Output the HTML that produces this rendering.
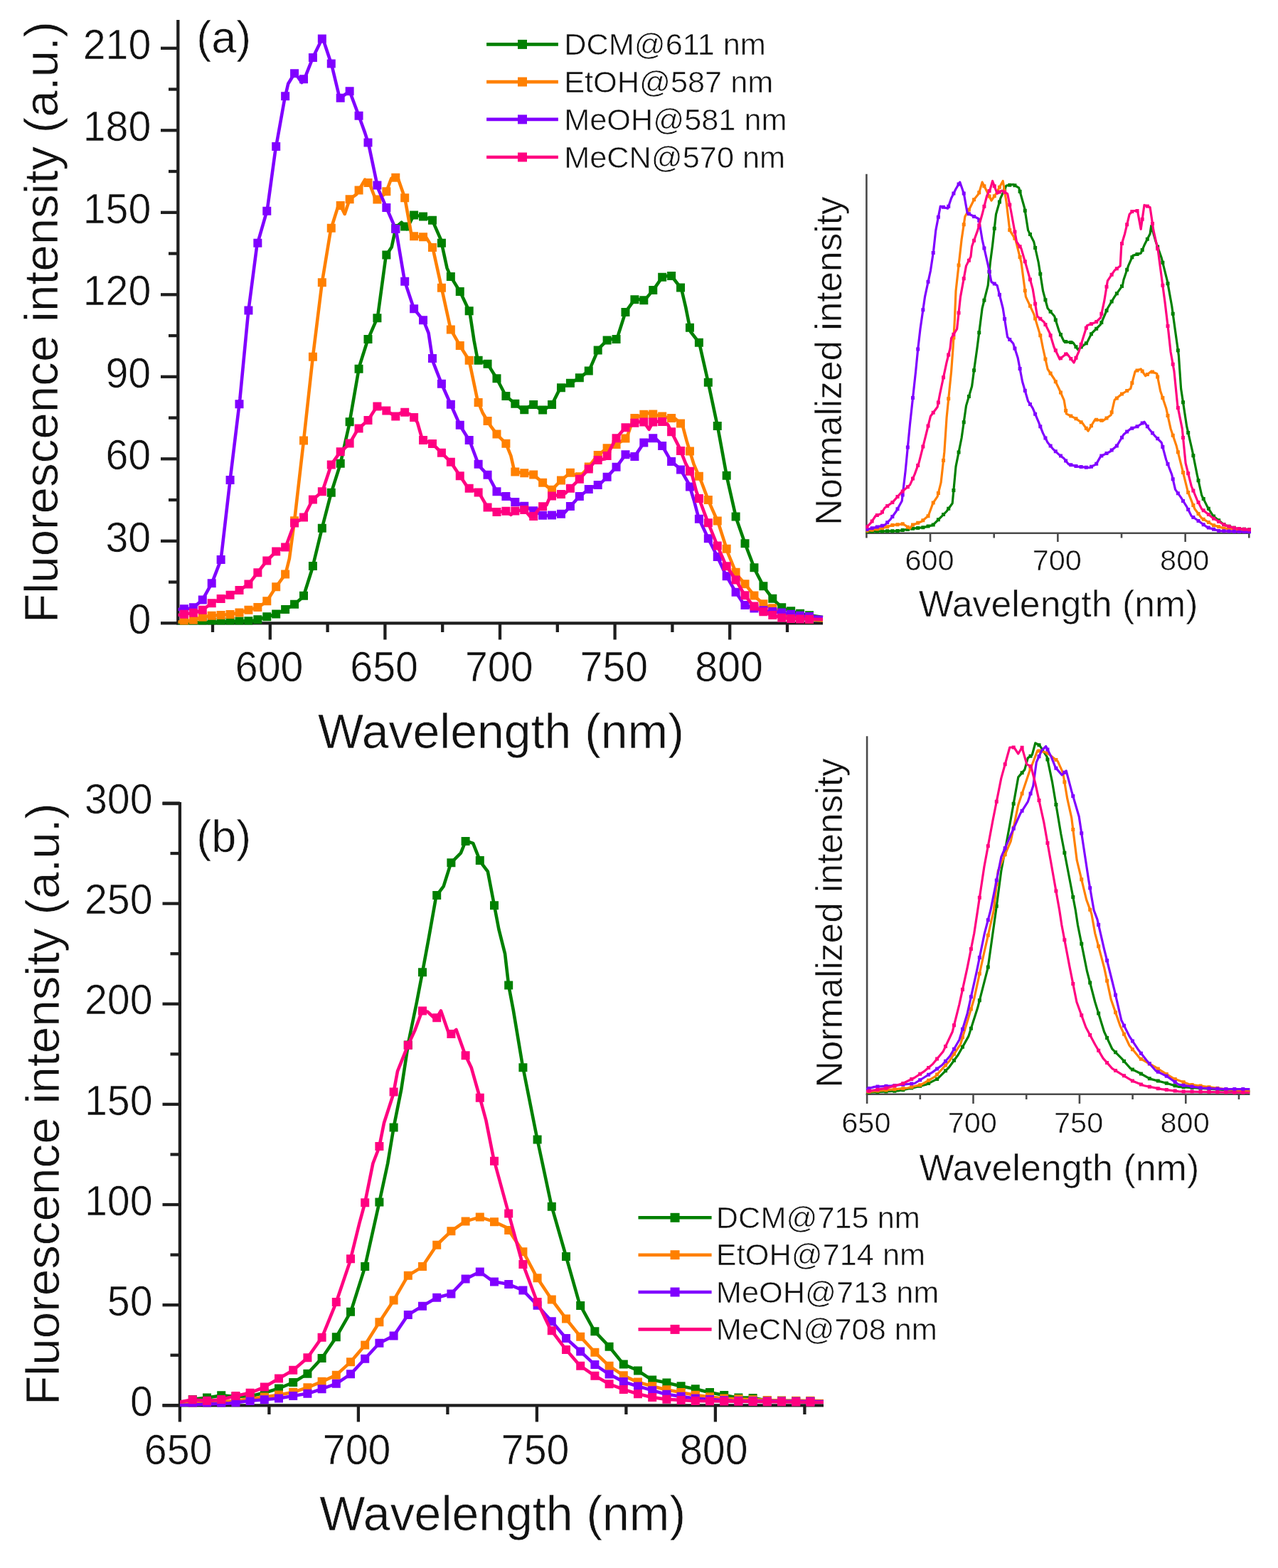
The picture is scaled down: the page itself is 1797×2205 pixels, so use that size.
<!DOCTYPE html>
<html><head><meta charset="utf-8"><title>Fluorescence spectra</title>
<style>html,body{margin:0;padding:0;background:#fff;overflow:hidden;} svg{display:block;} text{fill:#111;stroke:#fff;stroke-width:0.6px;}</style></head>
<body>
<svg width="1797" height="2205" viewBox="0 0 1797 2205" font-family="Liberation Sans, Arial, sans-serif">
<rect width="1797" height="2205" fill="#fff"/>
<line x1="250.3" y1="28" x2="250.3" y2="878.3" stroke="#1e1e1e" stroke-width="4.3"/>
<line x1="248.3" y1="876.3" x2="1157" y2="876.3" stroke="#1e1e1e" stroke-width="4.3"/>
<line x1="226" y1="876.3" x2="250.3" y2="876.3" stroke="#1e1e1e" stroke-width="4.3"/>
<text transform="translate(180.59 891.16) scale(1 1.020)" font-size="57.30">0</text>
<line x1="237" y1="818.55" x2="250.3" y2="818.55" stroke="#1e1e1e" stroke-width="4.3"/>
<line x1="226" y1="760.8" x2="250.3" y2="760.8" stroke="#1e1e1e" stroke-width="4.3"/>
<text transform="translate(148.5 775.66) scale(1 1.020)" font-size="57.30">30</text>
<line x1="237" y1="703.05" x2="250.3" y2="703.05" stroke="#1e1e1e" stroke-width="4.3"/>
<line x1="226" y1="645.3" x2="250.3" y2="645.3" stroke="#1e1e1e" stroke-width="4.3"/>
<text transform="translate(148.5 660.16) scale(1 1.020)" font-size="57.30">60</text>
<line x1="237" y1="587.55" x2="250.3" y2="587.55" stroke="#1e1e1e" stroke-width="4.3"/>
<line x1="226" y1="529.8" x2="250.3" y2="529.8" stroke="#1e1e1e" stroke-width="4.3"/>
<text transform="translate(148.5 544.66) scale(1 1.020)" font-size="57.30">90</text>
<line x1="237" y1="472.05" x2="250.3" y2="472.05" stroke="#1e1e1e" stroke-width="4.3"/>
<line x1="226" y1="414.3" x2="250.3" y2="414.3" stroke="#1e1e1e" stroke-width="4.3"/>
<text transform="translate(116.7 429.16) scale(1 1.020)" font-size="57.30">120</text>
<line x1="237" y1="356.55" x2="250.3" y2="356.55" stroke="#1e1e1e" stroke-width="4.3"/>
<line x1="226" y1="298.8" x2="250.3" y2="298.8" stroke="#1e1e1e" stroke-width="4.3"/>
<text transform="translate(116.7 313.66) scale(1 1.020)" font-size="57.30">150</text>
<line x1="237" y1="241.05" x2="250.3" y2="241.05" stroke="#1e1e1e" stroke-width="4.3"/>
<line x1="226" y1="183.3" x2="250.3" y2="183.3" stroke="#1e1e1e" stroke-width="4.3"/>
<text transform="translate(116.7 198.16) scale(1 1.020)" font-size="57.30">180</text>
<line x1="237" y1="125.55" x2="250.3" y2="125.55" stroke="#1e1e1e" stroke-width="4.3"/>
<line x1="226" y1="67.8" x2="250.3" y2="67.8" stroke="#1e1e1e" stroke-width="4.3"/>
<text transform="translate(116.7 82.66) scale(1 1.020)" font-size="57.30">210</text>
<line x1="299" y1="876.3" x2="299" y2="889" stroke="#1e1e1e" stroke-width="4.3"/>
<line x1="379.8" y1="876.3" x2="379.8" y2="899.5" stroke="#1e1e1e" stroke-width="4.3"/>
<text transform="translate(330.77 958.46) scale(1 1.020)" font-size="57.30">600</text>
<line x1="460.6" y1="876.3" x2="460.6" y2="889" stroke="#1e1e1e" stroke-width="4.3"/>
<line x1="541.4" y1="876.3" x2="541.4" y2="899.5" stroke="#1e1e1e" stroke-width="4.3"/>
<text transform="translate(492.37 958.46) scale(1 1.020)" font-size="57.30">650</text>
<line x1="622.2" y1="876.3" x2="622.2" y2="889" stroke="#1e1e1e" stroke-width="4.3"/>
<line x1="703" y1="876.3" x2="703" y2="899.5" stroke="#1e1e1e" stroke-width="4.3"/>
<text transform="translate(653.97 958.46) scale(1 1.020)" font-size="57.30">700</text>
<line x1="783.8" y1="876.3" x2="783.8" y2="889" stroke="#1e1e1e" stroke-width="4.3"/>
<line x1="864.6" y1="876.3" x2="864.6" y2="899.5" stroke="#1e1e1e" stroke-width="4.3"/>
<text transform="translate(815.57 958.46) scale(1 1.020)" font-size="57.30">750</text>
<line x1="945.4" y1="876.3" x2="945.4" y2="889" stroke="#1e1e1e" stroke-width="4.3"/>
<line x1="1026.2" y1="876.3" x2="1026.2" y2="899.5" stroke="#1e1e1e" stroke-width="4.3"/>
<text transform="translate(977.31 958.46) scale(1 1.020)" font-size="57.30">800</text>
<line x1="1107" y1="876.3" x2="1107" y2="889" stroke="#1e1e1e" stroke-width="4.3"/>
<text transform="translate(447.06 1052.05)" font-size="67.94">Wavelength (nm)</text>
<text transform="translate(80.9 875.89) rotate(-90)" font-size="67.35">Fluorescence intensity (a.u.)</text>
<text transform="translate(276.23 73.61)" font-size="62.91">(a)</text>
<line x1="252.9" y1="1128" x2="252.9" y2="1999.5" stroke="#1e1e1e" stroke-width="4.3"/>
<line x1="250.9" y1="1130.1" x2="228.5" y2="1130.1" stroke="#1e1e1e" stroke-width="4.3"/>
<line x1="228.5" y1="1976.3" x2="1158" y2="1976.3" stroke="#1e1e1e" stroke-width="4.3"/>
<line x1="228.5" y1="1976.3" x2="252.9" y2="1976.3" stroke="#1e1e1e" stroke-width="4.3"/>
<text transform="translate(182.89 1990.91) scale(1 1.020)" font-size="57.30">0</text>
<line x1="239.5" y1="1905.73" x2="252.9" y2="1905.73" stroke="#1e1e1e" stroke-width="4.3"/>
<line x1="228.5" y1="1835.16" x2="252.9" y2="1835.16" stroke="#1e1e1e" stroke-width="4.3"/>
<text transform="translate(150.8 1849.78) scale(1 1.020)" font-size="57.30">50</text>
<line x1="239.5" y1="1764.6" x2="252.9" y2="1764.6" stroke="#1e1e1e" stroke-width="4.3"/>
<line x1="228.5" y1="1694.03" x2="252.9" y2="1694.03" stroke="#1e1e1e" stroke-width="4.3"/>
<text transform="translate(119 1708.64) scale(1 1.020)" font-size="57.30">100</text>
<line x1="239.5" y1="1623.46" x2="252.9" y2="1623.46" stroke="#1e1e1e" stroke-width="4.3"/>
<line x1="228.5" y1="1552.89" x2="252.9" y2="1552.89" stroke="#1e1e1e" stroke-width="4.3"/>
<text transform="translate(119 1567.51) scale(1 1.020)" font-size="57.30">150</text>
<line x1="239.5" y1="1482.33" x2="252.9" y2="1482.33" stroke="#1e1e1e" stroke-width="4.3"/>
<line x1="228.5" y1="1411.76" x2="252.9" y2="1411.76" stroke="#1e1e1e" stroke-width="4.3"/>
<text transform="translate(119 1426.37) scale(1 1.020)" font-size="57.30">200</text>
<line x1="239.5" y1="1341.19" x2="252.9" y2="1341.19" stroke="#1e1e1e" stroke-width="4.3"/>
<line x1="228.5" y1="1270.62" x2="252.9" y2="1270.62" stroke="#1e1e1e" stroke-width="4.3"/>
<text transform="translate(119 1285.24) scale(1 1.020)" font-size="57.30">250</text>
<line x1="239.5" y1="1200.06" x2="252.9" y2="1200.06" stroke="#1e1e1e" stroke-width="4.3"/>
<line x1="228.5" y1="1129.49" x2="252.9" y2="1129.49" stroke="#1e1e1e" stroke-width="4.3"/>
<text transform="translate(119 1144.1) scale(1 1.020)" font-size="57.30">300</text>
<text transform="translate(202.77 2058.56) scale(1 1.020)" font-size="57.30">650</text>
<line x1="378.4" y1="1976.3" x2="378.4" y2="1989" stroke="#1e1e1e" stroke-width="4.3"/>
<line x1="503.9" y1="1976.3" x2="503.9" y2="1999.5" stroke="#1e1e1e" stroke-width="4.3"/>
<text transform="translate(453.77 2058.56) scale(1 1.020)" font-size="57.30">700</text>
<line x1="629.4" y1="1976.3" x2="629.4" y2="1989" stroke="#1e1e1e" stroke-width="4.3"/>
<line x1="754.9" y1="1976.3" x2="754.9" y2="1999.5" stroke="#1e1e1e" stroke-width="4.3"/>
<text transform="translate(704.77 2058.56) scale(1 1.020)" font-size="57.30">750</text>
<line x1="880.4" y1="1976.3" x2="880.4" y2="1989" stroke="#1e1e1e" stroke-width="4.3"/>
<line x1="1005.9" y1="1976.3" x2="1005.9" y2="1999.5" stroke="#1e1e1e" stroke-width="4.3"/>
<text transform="translate(955.91 2058.56) scale(1 1.020)" font-size="57.30">800</text>
<line x1="1131.4" y1="1976.3" x2="1131.4" y2="1989" stroke="#1e1e1e" stroke-width="4.3"/>
<text transform="translate(449.26 2152.05)" font-size="67.94">Wavelength (nm)</text>
<text transform="translate(82.6 1975.89) rotate(-90)" font-size="67.42">Fluorescence intensity (a.u.)</text>
<text transform="translate(276.23 1197.71)" font-size="62.91">(b)</text>
<line x1="1218.4" y1="244.8" x2="1218.4" y2="751" stroke="#4a4a4a" stroke-width="2.6"/>
<line x1="1217.1" y1="749.7" x2="1757.5" y2="749.7" stroke="#4a4a4a" stroke-width="2.6"/>
<line x1="1218.4" y1="749.7" x2="1218.4" y2="756.5" stroke="#4a4a4a" stroke-width="2.6"/>
<line x1="1308.05" y1="749.7" x2="1308.05" y2="762" stroke="#4a4a4a" stroke-width="2.6"/>
<line x1="1397.7" y1="749.7" x2="1397.7" y2="756.5" stroke="#4a4a4a" stroke-width="2.6"/>
<line x1="1487.35" y1="749.7" x2="1487.35" y2="762" stroke="#4a4a4a" stroke-width="2.6"/>
<line x1="1577" y1="749.7" x2="1577" y2="756.5" stroke="#4a4a4a" stroke-width="2.6"/>
<line x1="1666.65" y1="749.7" x2="1666.65" y2="762" stroke="#4a4a4a" stroke-width="2.6"/>
<line x1="1756.3" y1="749.7" x2="1756.3" y2="756.5" stroke="#4a4a4a" stroke-width="2.6"/>
<text transform="translate(1272.39 801.72)" font-size="41.50">600</text>
<text transform="translate(1451.69 801.72)" font-size="41.50">700</text>
<text transform="translate(1631.09 801.72)" font-size="41.50">800</text>
<text transform="translate(1291.74 867.08)" font-size="51.84">Wavelength (nm)</text>
<text transform="translate(1183.4 738.71) rotate(-90)" font-size="51.37">Normalized intensity</text>
<line x1="1219.1" y1="1035.3" x2="1219.1" y2="1540" stroke="#4a4a4a" stroke-width="2.6"/>
<line x1="1217.8" y1="1538.7" x2="1757.5" y2="1538.7" stroke="#4a4a4a" stroke-width="2.6"/>
<line x1="1219.1" y1="1538.7" x2="1219.1" y2="1552" stroke="#4a4a4a" stroke-width="2.6"/>
<line x1="1293.8" y1="1538.7" x2="1293.8" y2="1546" stroke="#4a4a4a" stroke-width="2.6"/>
<line x1="1368.5" y1="1538.7" x2="1368.5" y2="1552" stroke="#4a4a4a" stroke-width="2.6"/>
<line x1="1443.2" y1="1538.7" x2="1443.2" y2="1546" stroke="#4a4a4a" stroke-width="2.6"/>
<line x1="1517.9" y1="1538.7" x2="1517.9" y2="1552" stroke="#4a4a4a" stroke-width="2.6"/>
<line x1="1592.6" y1="1538.7" x2="1592.6" y2="1546" stroke="#4a4a4a" stroke-width="2.6"/>
<line x1="1667.3" y1="1538.7" x2="1667.3" y2="1552" stroke="#4a4a4a" stroke-width="2.6"/>
<line x1="1742" y1="1538.7" x2="1742" y2="1546" stroke="#4a4a4a" stroke-width="2.6"/>
<text transform="translate(1183.24 1592.52)" font-size="41.50">650</text>
<text transform="translate(1332.64 1592.52)" font-size="41.50">700</text>
<text transform="translate(1482.04 1592.52)" font-size="41.50">750</text>
<text transform="translate(1631.54 1592.52)" font-size="41.50">800</text>
<text transform="translate(1292.44 1659.68)" font-size="51.97">Wavelength (nm)</text>
<text transform="translate(1183.7 1529.42) rotate(-90)" font-size="51.46">Normalized intensity</text>
<line x1="684.1" y1="62.4" x2="784.9" y2="62.4" stroke="#008000" stroke-width="4.6"/>
<rect x="728" y="55.9" width="13" height="13" fill="#008000"/>
<text transform="translate(793.14 77.1)" font-size="43.30">DCM@611 nm</text>
<line x1="684.1" y1="115.1" x2="784.9" y2="115.1" stroke="#FF8000" stroke-width="4.6"/>
<rect x="728" y="108.6" width="13" height="13" fill="#FF8000"/>
<text transform="translate(793.14 129.8)" font-size="43.30">EtOH@587 nm</text>
<line x1="684.1" y1="167.9" x2="784.9" y2="167.9" stroke="#8000FF" stroke-width="4.6"/>
<rect x="728" y="161.4" width="13" height="13" fill="#8000FF"/>
<text transform="translate(793.14 182.6)" font-size="43.30">MeOH@581 nm</text>
<line x1="684.1" y1="221" x2="784.9" y2="221" stroke="#FF0080" stroke-width="4.6"/>
<rect x="728" y="214.5" width="13" height="13" fill="#FF0080"/>
<text transform="translate(793.14 235.7)" font-size="43.30">MeCN@570 nm</text>
<line x1="897.5" y1="1712.3" x2="1000.6" y2="1712.3" stroke="#008000" stroke-width="4.6"/>
<rect x="942.55" y="1705.8" width="13" height="13" fill="#008000"/>
<text transform="translate(1006.84 1727)" font-size="43.30">DCM@715 nm</text>
<line x1="897.5" y1="1764.7" x2="1000.6" y2="1764.7" stroke="#FF8000" stroke-width="4.6"/>
<rect x="942.55" y="1758.2" width="13" height="13" fill="#FF8000"/>
<text transform="translate(1006.84 1779.4)" font-size="43.30">EtOH@714 nm</text>
<line x1="897.5" y1="1817" x2="1000.6" y2="1817" stroke="#8000FF" stroke-width="4.6"/>
<rect x="942.55" y="1810.5" width="13" height="13" fill="#8000FF"/>
<text transform="translate(1006.84 1831.7)" font-size="43.30">MeOH@713 nm</text>
<line x1="897.5" y1="1869.4" x2="1000.6" y2="1869.4" stroke="#FF0080" stroke-width="4.6"/>
<rect x="942.55" y="1862.9" width="13" height="13" fill="#FF0080"/>
<text transform="translate(1006.84 1884.1)" font-size="43.30">MeCN@708 nm</text>
<clipPath id="c135"><rect x="250.5" y="20" width="919.5" height="858.5"/></clipPath><g clip-path="url(#c135)">
<polyline points="250,876.4 357,872.9 374.8,867.5 387.3,864 401.6,856.8 414.1,849.7 426.6,839 439,799.7 453.3,740.8 465.8,692.7 478.3,653.4 490.8,598.1 505,516.1 516.8,478.7 531,445.9 542.7,359.5 550.7,347.4 556.5,320 564.6,312.8 572,322 581.8,302.5 594,304.2 607.8,309.4 619.9,337 628.5,376.8 633.7,388.9 647.5,411.3 660.5,439 666.5,478.7 671.7,506.4 685.5,511.6 698.5,532.3 711.4,557 725.3,568.5 735.6,577.2 749.5,568.5 761.6,577.2 775.4,570.3 787.5,546.1 801.3,539.2 816.4,530.4 828.5,520.9 841.5,490.7 855.3,476.9 867.4,476.9 879.5,438.9 893.3,419.9 906.3,422.4 919.2,406.9 931.3,389.6 943.4,387 958.1,406 964.2,432 971.1,466.5 983.2,482.1 996.1,539.1 1010,604.8 1022.2,671.6 1035.1,728.6 1048.1,765.8 1061.9,802 1074,825.4 1087,842.7 1099.9,854.8 1113.8,859.9 1130,864 1157,868" fill="none" stroke="#008000" stroke-width="4.6" stroke-linejoin="round"/>
<path d="M252.92 870.11h12v12h-12zM265.85 869.69h12v12h-12zM278.78 869.26h12v12h-12zM291.71 868.84h12v12h-12zM304.64 868.42h12v12h-12zM317.56 867.99h12v12h-12zM330.49 867.57h12v12h-12zM343.42 867.15h12v12h-12zM356.35 865.28h12v12h-12zM369.28 861.37h12v12h-12zM382.2 857.55h12v12h-12zM395.13 851.04h12v12h-12zM408.06 843.72h12v12h-12zM420.99 831.77h12v12h-12zM433.92 789.93h12v12h-12zM446.84 736.68h12v12h-12zM459.77 686.81h12v12h-12zM472.7 645.63h12v12h-12zM485.63 587.32h12v12h-12zM498.56 512.67h12v12h-12zM511.48 471.12h12v12h-12zM524.41 441.26h12v12h-12zM537.34 352.53h12v12h-12zM550.27 315.1h12v12h-12zM563.2 312.51h12v12h-12zM576.12 296.55h12v12h-12zM589.05 298.6h12v12h-12zM601.98 303.81h12v12h-12zM614.91 335.66h12v12h-12zM627.84 383.12h12v12h-12zM640.76 404.1h12v12h-12zM653.69 431.28h12v12h-12zM666.62 500.75h12v12h-12zM679.55 505.68h12v12h-12zM692.48 526.26h12v12h-12zM705.4 551h12v12h-12zM718.33 561.7h12v12h-12zM731.26 570.16h12v12h-12zM744.19 562.99h12v12h-12zM757.12 570.44h12v12h-12zM770.04 563.01h12v12h-12zM782.97 539.36h12v12h-12zM795.9 532.85h12v12h-12zM808.83 525.32h12v12h-12zM821.76 515.48h12v12h-12zM834.68 486.6h12v12h-12zM847.61 472.59h12v12h-12zM860.54 470.9h12v12h-12zM873.47 433h12v12h-12zM886.4 415.15h12v12h-12zM899.32 416.21h12v12h-12zM912.25 402.04h12v12h-12zM925.18 383.77h12v12h-12zM938.11 381.91h12v12h-12zM951.04 398.62h12v12h-12zM963.96 454.82h12v12h-12zM976.89 475.7h12v12h-12zM989.82 531.86h12v12h-12zM1002.75 592.88h12v12h-12zM1015.68 662.73h12v12h-12zM1028.6 720.4h12v12h-12zM1041.53 758.17h12v12h-12zM1054.46 792.22h12v12h-12zM1067.39 818.21h12v12h-12zM1080.32 835.79h12v12h-12zM1093.24 848.18h12v12h-12zM1106.17 853.3h12v12h-12zM1119.1 856.76h12v12h-12zM1132.03 859.19h12v12h-12z" fill="#008000"/>
<polyline points="250,874.7 267.8,872.9 285.7,867.5 298.2,865.7 310.6,864.9 324.9,864 337.4,861.3 349.9,857.7 362.4,854.1 374.8,846.1 387.3,826.5 401.6,806.9 406.9,785.5 414.1,731.9 426.6,623.1 439.9,501.8 452.8,397.5 465,323.3 476.9,285.4 484.7,300.9 491.6,280.2 501.1,273.3 513.2,252.6 520.1,259.5 528.7,281.9 542.5,271.6 550.3,250.8 559,249.1 569.3,278.5 578.8,332 599.1,333.6 608.6,349.1 621.6,407.9 633.7,463.2 647.5,487.4 659.6,506.4 671.5,563.2 678.6,580.5 689,597.8 699.3,611.6 711.4,623.7 718.4,641 723.5,663.4 737.4,665.2 749.5,666.9 763.3,679 775.4,689.3 789.2,675.2 801.9,664.8 814.6,670.6 824.9,660.2 839.9,640.6 853.7,630.3 867.6,624.5 881.4,615.3 890.6,588.8 910.2,580.7 935.5,586.5 949.4,588.8 959.7,598 965.5,619.9 975.5,652.6 985.9,676.8 996.3,704.4 1010.1,735.5 1023.9,778.7 1036,808.1 1048.1,821.9 1061.9,839.2 1075.7,851.3 1089.6,856.5 1105.1,866 1120,869.5 1157,872.5" fill="none" stroke="#FF8000" stroke-width="4.6" stroke-linejoin="round"/>
<path d="M252.92 867.8h12v12h-12zM265.85 865.68h12v12h-12zM278.78 861.78h12v12h-12zM291.71 859.77h12v12h-12zM304.64 858.9h12v12h-12zM317.56 858.08h12v12h-12zM330.49 855.5h12v12h-12zM343.42 851.84h12v12h-12zM356.35 848.12h12v12h-12zM369.28 839.35h12v12h-12zM382.2 819.26h12v12h-12zM395.13 801.54h12v12h-12zM408.06 726.2h12v12h-12zM420.99 613.57h12v12h-12zM433.92 495.68h12v12h-12zM446.84 391.24h12v12h-12zM459.77 314.84h12v12h-12zM472.7 282.98h12v12h-12zM485.63 274.18h12v12h-12zM498.56 261.39h12v12h-12zM511.48 250.88h12v12h-12zM524.41 274.62h12v12h-12zM537.34 263.36h12v12h-12zM550.27 243.63h12v12h-12zM563.2 272.2h12v12h-12zM576.12 326.26h12v12h-12zM589.05 327.28h12v12h-12zM601.98 342.09h12v12h-12zM614.91 398.77h12v12h-12zM627.84 457.44h12v12h-12zM640.76 480.11h12v12h-12zM653.69 500.84h12v12h-12zM666.62 559.93h12v12h-12zM679.55 586.06h12v12h-12zM692.48 604.49h12v12h-12zM705.4 617.71h12v12h-12zM718.33 657.51h12v12h-12zM731.26 659.18h12v12h-12zM744.19 661.5h12v12h-12zM757.12 672.84h12v12h-12zM770.04 682.64h12v12h-12zM782.97 669.43h12v12h-12zM795.9 658.8h12v12h-12zM808.83 664.37h12v12h-12zM821.76 650.47h12v12h-12zM834.68 634.02h12v12h-12zM847.61 624.37h12v12h-12zM860.54 618.94h12v12h-12zM873.47 610.59h12v12h-12zM886.4 582.06h12v12h-12zM899.32 576.72h12v12h-12zM912.25 576.55h12v12h-12zM925.18 579.51h12v12h-12zM938.11 581.92h12v12h-12zM951.04 589.62h12v12h-12zM963.96 628.49h12v12h-12zM976.89 663.8h12v12h-12zM989.82 697.12h12v12h-12zM1002.75 726.45h12v12h-12zM1015.68 765.74h12v12h-12zM1028.6 798.71h12v12h-12zM1041.53 815.25h12v12h-12zM1054.46 831.39h12v12h-12zM1067.39 843.27h12v12h-12zM1080.32 849.27h12v12h-12zM1093.24 856.41h12v12h-12zM1106.17 861.66h12v12h-12zM1119.1 863.91h12v12h-12zM1132.03 864.96h12v12h-12z" fill="#FF8000"/>
<polyline points="250,857 270.5,855.5 284.8,843.4 298.2,819.4 310.6,787.2 324,671.3 337.4,560.7 349.1,439 361.2,345.7 375.8,294.9 387,212.8 400,140.2 405.2,117.8 414.7,102.2 424.2,116 430.2,105.7 439.7,81.5 453.6,53 466.5,91.8 477.7,138.5 491.6,128.1 504.5,162.7 513.2,186.9 518.4,203.3 531.3,264.6 546.4,299 556.8,323.2 568.9,394.9 581.8,433.8 595.7,451.1 602.6,468.4 608.6,508.1 620.7,539.2 633.7,568.5 647.5,599.5 660.5,620.2 673.4,654.8 686.4,668.6 699.3,692.8 711.4,698 725.3,706.6 737.4,711.8 751.2,718.7 765,725.6 782.3,723.9 792.7,722.2 801.9,712.1 814.6,698.2 829.5,686.7 843.4,681 853.7,670.6 867.6,655.6 880.2,638.3 891.8,642.9 905.6,622.2 920.5,615.3 929.8,624.5 943.6,648.7 956.3,659.1 968.9,681 975.9,704 982.4,728.6 995.4,756.3 1008.4,782.2 1020.4,808.1 1034.3,832.3 1046.4,850.5 1061.9,856 1079.2,859.5 1096.5,861 1113,864 1130,866.5 1157,868" fill="none" stroke="#8000FF" stroke-width="4.6" stroke-linejoin="round"/>
<path d="M252.92 850.35h12v12h-12zM265.85 848.36h12v12h-12zM278.78 837.42h12v12h-12zM291.71 814.28h12v12h-12zM304.64 780.9h12v12h-12zM317.56 669.08h12v12h-12zM330.49 562.2h12v12h-12zM343.42 430.54h12v12h-12zM356.35 335.71h12v12h-12zM369.28 290.73h12v12h-12zM382.2 200.08h12v12h-12zM395.13 129.33h12v12h-12zM408.06 97.25h12v12h-12zM420.99 105.22h12v12h-12zM433.92 75.06h12v12h-12zM446.84 48.55h12v12h-12zM459.77 83.61h12v12h-12zM472.7 131.75h12v12h-12zM485.63 122.17h12v12h-12zM498.56 156.85h12v12h-12zM511.48 194.41h12v12h-12zM524.41 254.38h12v12h-12zM537.34 286.03h12v12h-12zM550.27 315.96h12v12h-12zM563.2 389.79h12v12h-12zM576.12 428.2h12v12h-12zM589.05 444.29h12v12h-12zM601.98 497.99h12v12h-12zM614.91 533.67h12v12h-12zM627.84 562.8h12v12h-12zM640.76 591.84h12v12h-12zM653.69 612.91h12v12h-12zM666.62 646.71h12v12h-12zM679.55 661.69h12v12h-12zM692.48 685.25h12v12h-12zM705.4 692h12v12h-12zM718.33 700h12v12h-12zM731.26 705.74h12v12h-12zM744.19 712.19h12v12h-12zM757.12 718.66h12v12h-12zM770.04 718.51h12v12h-12zM782.97 716.81h12v12h-12zM795.9 706.1h12v12h-12zM808.83 692.02h12v12h-12zM821.76 682.05h12v12h-12zM834.68 676.11h12v12h-12zM847.61 664.69h12v12h-12zM860.54 650.74h12v12h-12zM873.47 633.31h12v12h-12zM886.4 636.01h12v12h-12zM899.32 616.62h12v12h-12zM912.25 610.34h12v12h-12zM925.18 620.92h12v12h-12zM938.11 643.12h12v12h-12zM951.04 654.38h12v12h-12zM963.96 678.49h12v12h-12zM976.89 723.65h12v12h-12zM989.82 751.14h12v12h-12zM1002.75 776.95h12v12h-12zM1015.68 804.32h12v12h-12zM1028.6 826.76h12v12h-12zM1041.53 844.9h12v12h-12zM1054.46 849.49h12v12h-12zM1067.39 852.32h12v12h-12zM1080.32 854.12h12v12h-12zM1093.24 855.5h12v12h-12zM1106.17 857.85h12v12h-12zM1119.1 859.78h12v12h-12zM1132.03 860.95h12v12h-12z" fill="#8000FF"/>
<polyline points="250,865 260.7,863.5 271.4,862 283.9,858.5 297.3,848.5 310.6,842 324,836.5 337.4,829.5 349.9,821.1 362.4,805.1 374.8,789 389.1,774.7 401.6,769.4 414.1,735.5 426.6,728.4 439,703.4 453.3,690.9 465.8,653.4 478.3,635.6 490.8,624.9 503.3,603.5 517.5,591 530,571.4 538.9,574.9 545.6,578.8 555.9,585.7 566.3,578.8 580.1,583.9 587,594.3 593.9,618.5 607.8,623.7 621.6,637.5 633.7,649.6 647.5,670.3 657.9,685.9 673.4,692.8 685.5,713.5 699.3,720.4 711.4,718.7 718.4,723.9 723.5,718.7 737.4,717 747.7,729.1 759.8,713.5 768.5,710.1 773.6,698 784,696.3 795,693.6 813.4,675.2 826.1,661.4 837.6,647.6 851.4,645.3 865.3,617.6 879.1,601.5 892.9,594.6 904.4,592.3 912.5,603.8 918.2,593.4 929.8,592.3 939,596.9 944.7,608.4 955.1,629.1 964.3,652.2 973.5,669.4 979,690.6 994.5,732.1 1008.4,766.6 1020.4,794.3 1034.3,815 1046.4,835.7 1058.5,851.3 1072.3,859.9 1086.1,865 1099.9,869 1120,870.5 1157,871" fill="none" stroke="#FF0080" stroke-width="4.6" stroke-linejoin="round"/>
<path d="M252.92 857.75h12v12h-12zM265.85 855.87h12v12h-12zM278.78 851.84h12v12h-12zM291.71 842.3h12v12h-12zM304.64 835.99h12v12h-12zM317.56 830.68h12v12h-12zM330.49 823.97h12v12h-12zM343.42 815.42h12v12h-12zM356.35 799.17h12v12h-12zM369.28 782.52h12v12h-12zM382.2 769.6h12v12h-12zM395.13 763.6h12v12h-12zM408.06 729.61h12v12h-12zM420.99 721.62h12v12h-12zM433.92 696.6h12v12h-12zM446.84 685.3h12v12h-12zM459.77 647.49h12v12h-12zM472.7 629.26h12v12h-12zM485.63 617.48h12v12h-12zM498.56 596.4h12v12h-12zM511.48 585.01h12v12h-12zM524.41 565.56h12v12h-12zM537.34 571.48h12v12h-12zM550.27 579.46h12v12h-12zM563.2 573.87h12v12h-12zM576.12 580.95h12v12h-12zM589.05 612.93h12v12h-12zM601.98 617.88h12v12h-12zM614.91 630.81h12v12h-12zM627.84 643.8h12v12h-12zM640.76 663.19h12v12h-12zM653.69 680.7h12v12h-12zM666.62 686.45h12v12h-12zM679.55 707.52h12v12h-12zM692.48 713.99h12v12h-12zM705.4 712.7h12v12h-12zM718.33 712.6h12v12h-12zM731.26 711.02h12v12h-12zM744.19 719.89h12v12h-12zM757.12 706.2h12v12h-12zM770.04 691.6h12v12h-12zM782.97 689.08h12v12h-12zM795.9 680.7h12v12h-12zM808.83 667.65h12v12h-12zM821.76 653.41h12v12h-12zM834.68 641.09h12v12h-12zM847.61 634.89h12v12h-12zM860.54 610.15h12v12h-12zM873.47 595.32h12v12h-12zM886.4 588.85h12v12h-12zM899.32 587.61h12v12h-12zM912.25 587.4h12v12h-12zM925.18 586.99h12v12h-12zM938.11 601.2h12v12h-12zM951.04 627.96h12v12h-12zM963.96 656.79h12v12h-12zM976.89 695.02h12v12h-12zM989.82 729.37h12v12h-12zM1002.75 761.4h12v12h-12zM1015.68 790.2h12v12h-12zM1028.6 809.52h12v12h-12zM1041.53 831.16h12v12h-12zM1054.46 846.52h12v12h-12zM1067.39 854.3h12v12h-12zM1080.32 859.06h12v12h-12zM1093.24 862.81h12v12h-12zM1106.17 863.92h12v12h-12zM1119.1 864.57h12v12h-12zM1132.03 864.74h12v12h-12z" fill="#FF0080"/>
</g>
<clipPath id="c145"><rect x="253" y="1100" width="917" height="878.5"/></clipPath><g clip-path="url(#c145)">
<polyline points="252.7,1974.5 272.5,1967.5 291.5,1965.5 312.2,1962.2 332,1964 353.7,1963 371,1958.7 391.7,1952.7 412.4,1944 432.3,1931.9 453,1909.5 472.9,1880.1 493.6,1843.8 512.7,1783.3 533.4,1690.6 545.2,1636 553.8,1584.2 564.2,1532.3 574.5,1464.9 585.7,1410.6 594.3,1365.6 602.9,1319 613.3,1260.2 623.7,1246.4 634,1213.6 647.9,1199.7 654.8,1182.5 665.2,1185.9 675.5,1211.8 685.9,1225.7 694.5,1270.6 701.4,1306.9 710.1,1341.4 715.3,1386.4 721.7,1420 734.4,1496.1 754.1,1595.4 775.2,1694.6 795.7,1766 814.8,1833.4 835.7,1871.6 856.2,1893.2 876.8,1918.6 895.4,1926.5 916,1940.2 935.5,1944.1 956.1,1949 976.7,1952.9 996.3,1957.8 1016.8,1961.7 1037.4,1965.6 1057,1965.6 1078.5,1969.6 1158,1970.5" fill="none" stroke="#008000" stroke-width="4.6" stroke-linejoin="round"/>
<path d="M264.8 1962.1h12v12h-12zM285 1959.55h12v12h-12zM305.2 1956.36h12v12h-12zM325.4 1957.95h12v12h-12zM345.6 1957.1h12v12h-12zM365.8 1952.47h12v12h-12zM386 1946.57h12v12h-12zM406.2 1938.08h12v12h-12zM426.4 1925.79h12v12h-12zM446.6 1903.93h12v12h-12zM466.8 1874.25h12v12h-12zM487 1838.85h12v12h-12zM507.2 1775.06h12v12h-12zM527.4 1684.6h12v12h-12zM547.6 1579.4h12v12h-12zM567.8 1463.48h12v12h-12zM588 1361.17h12v12h-12zM608.2 1253.01h12v12h-12zM628.4 1207.2h12v12h-12zM648.6 1177h12v12h-12zM668.8 1204.04h12v12h-12zM689 1267.23h12v12h-12zM709.2 1379.53h12v12h-12zM729.4 1495.14h12v12h-12zM749.6 1596.45h12v12h-12zM769.8 1690.69h12v12h-12zM790 1761.06h12v12h-12zM810.2 1829.96h12v12h-12zM830.4 1866.34h12v12h-12zM850.6 1887.69h12v12h-12zM870.8 1912.6h12v12h-12zM891 1921.56h12v12h-12zM911.2 1934.44h12v12h-12zM931.4 1938.55h12v12h-12zM951.6 1943.28h12v12h-12zM971.8 1947.18h12v12h-12zM992 1952.12h12v12h-12zM1012.2 1955.97h12v12h-12zM1032.4 1959.6h12v12h-12zM1052.6 1959.9h12v12h-12zM1072.8 1963.6h12v12h-12zM1093 1963.83h12v12h-12zM1113.2 1964.06h12v12h-12zM1133.4 1964.29h12v12h-12z" fill="#008000"/>
<polyline points="252.7,1975 330,1970 390,1962 412.4,1957.8 433.2,1950.9 453.9,1942.3 472.9,1933.6 493.6,1914.6 512.7,1892.2 533.4,1859.3 553.8,1828.2 573.7,1793.7 593.6,1781.6 614.3,1750.5 634.2,1731.5 654,1717.6 674.8,1711.6 693.8,1717.6 712.8,1726.3 737,1762.6 754.3,1795.4 775,1826.5 795.7,1854.2 816.5,1880.1 835.7,1901 856.2,1920.6 876.8,1934.3 895.4,1943.1 916,1949 935.5,1953.9 956.1,1957.8 976.7,1961.7 1015.8,1966.5 1094.2,1969.5 1158,1970" fill="none" stroke="#FF8000" stroke-width="4.6" stroke-linejoin="round"/>
<path d="M264.8 1967.83h12v12h-12zM285 1966.52h12v12h-12zM305.2 1965.22h12v12h-12zM325.4 1963.81h12v12h-12zM345.6 1961.12h12v12h-12zM365.8 1958.43h12v12h-12zM386 1955.62h12v12h-12zM406.2 1951.84h12v12h-12zM426.4 1945.17h12v12h-12zM446.6 1936.84h12v12h-12zM466.8 1927.65h12v12h-12zM487 1909.15h12v12h-12zM507.2 1885.41h12v12h-12zM527.4 1853.3h12v12h-12zM547.6 1822.5h12v12h-12zM567.8 1787.64h12v12h-12zM588 1775h12v12h-12zM608.2 1744.65h12v12h-12zM628.4 1725.36h12v12h-12zM648.6 1711.43h12v12h-12zM668.8 1705.6h12v12h-12zM689 1712.15h12v12h-12zM709.2 1723.9h12v12h-12zM729.4 1754.2h12v12h-12zM749.6 1791.35h12v12h-12zM769.8 1821.57h12v12h-12zM790 1848.57h12v12h-12zM810.2 1873.73h12v12h-12zM830.4 1895.67h12v12h-12zM850.6 1914.87h12v12h-12zM870.8 1928.3h12v12h-12zM891 1937.56h12v12h-12zM911.2 1943.3h12v12h-12zM931.4 1948.26h12v12h-12zM951.6 1952.08h12v12h-12zM971.8 1955.84h12v12h-12zM992 1958.31h12v12h-12zM1012.2 1960.59h12v12h-12zM1032.4 1961.36h12v12h-12zM1052.6 1962.14h12v12h-12zM1072.8 1962.91h12v12h-12zM1093 1963.54h12v12h-12zM1113.2 1963.7h12v12h-12zM1133.4 1963.85h12v12h-12z" fill="#FF8000"/>
<polyline points="252.7,1976 322.6,1973.4 350.2,1970 371,1968.2 391.7,1966.5 412.4,1963 433.2,1959.6 453.9,1952.7 472.9,1945.8 493.6,1931.9 512.7,1911.2 533.4,1888.7 553.8,1878.4 573.7,1849 593.6,1836.9 614.3,1824.8 634.2,1819.6 654,1798.9 674.8,1788.5 693.8,1802.3 714.5,1805.8 735.3,1814.4 755,1835 776.7,1859.3 795.7,1881.8 814.8,1899.1 835.7,1918.6 856.2,1932.3 876.8,1943.1 895.4,1949 916,1954.9 935.5,1960.5 976.7,1966.5 1030,1970 1158,1971" fill="none" stroke="#8000FF" stroke-width="4.6" stroke-linejoin="round"/>
<path d="M264.8 1969.33h12v12h-12zM285 1968.58h12v12h-12zM305.2 1967.82h12v12h-12zM325.4 1966.32h12v12h-12zM345.6 1963.88h12v12h-12zM365.8 1962.13h12v12h-12zM386 1960.45h12v12h-12zM406.2 1957.03h12v12h-12zM426.4 1953.73h12v12h-12zM446.6 1947.13h12v12h-12zM466.8 1939.84h12v12h-12zM487 1926.3h12v12h-12zM507.2 1904.66h12v12h-12zM527.4 1882.7h12v12h-12zM547.6 1872.5h12v12h-12zM567.8 1842.94h12v12h-12zM588 1830.67h12v12h-12zM608.2 1818.86h12v12h-12zM628.4 1813.39h12v12h-12zM648.6 1792.6h12v12h-12zM668.8 1782.5h12v12h-12zM689 1796.5h12v12h-12zM709.2 1800.09h12v12h-12zM729.4 1808.5h12v12h-12zM749.6 1829.67h12v12h-12zM769.8 1852.29h12v12h-12zM790 1876.07h12v12h-12zM810.2 1894.41h12v12h-12zM830.4 1913.07h12v12h-12zM850.6 1926.51h12v12h-12zM870.8 1937.1h12v12h-12zM891 1943.46h12v12h-12zM911.2 1949.24h12v12h-12zM931.4 1954.78h12v12h-12zM951.6 1957.72h12v12h-12zM971.8 1960.57h12v12h-12zM992 1961.9h12v12h-12zM1012.2 1963.23h12v12h-12zM1032.4 1964.07h12v12h-12zM1052.6 1964.22h12v12h-12zM1072.8 1964.38h12v12h-12zM1093 1964.54h12v12h-12zM1113.2 1964.7h12v12h-12zM1133.4 1964.85h12v12h-12z" fill="#8000FF"/>
<polyline points="252.7,1971.7 270.7,1968.2 291.5,1969.9 310.5,1968.2 331.2,1963 352,1958.7 371,1950.9 391.7,1938.8 412.4,1926.7 432.3,1909.5 453,1880.1 472,1833.4 491.9,1774.7 505.4,1720 513.2,1691.3 524.4,1636 533.1,1613.5 540,1579 552.9,1539.2 559,1506.4 572.8,1471.8 583.2,1449.4 593.5,1421.5 601.2,1422.7 612.8,1433.5 620,1421.5 632,1456 641.5,1448 654,1483 662.7,1501.2 674.3,1542 683.4,1575.5 694,1629 714.5,1704 733.5,1772.9 754.3,1828.2 773.3,1868 794,1895.6 814.8,1919.8 835.7,1934.3 856.2,1946.1 876.8,1953.9 895.4,1959.8 916,1964.7 935.5,1967.6 976.7,1970 1158,1972" fill="none" stroke="#FF0080" stroke-width="4.6" stroke-linejoin="round"/>
<path d="M264.8 1962.21h12v12h-12zM285 1963.86h12v12h-12zM305.2 1962.02h12v12h-12zM325.4 1956.96h12v12h-12zM345.6 1952.78h12v12h-12zM365.8 1944.43h12v12h-12zM386 1932.62h12v12h-12zM406.2 1920.82h12v12h-12zM426.4 1903.36h12v12h-12zM446.6 1874.67h12v12h-12zM466.8 1825.04h12v12h-12zM487 1764.24h12v12h-12zM507.2 1685.3h12v12h-12zM527.4 1606h12v12h-12zM547.6 1529.44h12v12h-12zM567.8 1463.65h12v12h-12zM588 1415.58h12v12h-12zM608.2 1425.17h12v12h-12zM628.4 1447.98h12v12h-12zM648.6 1478.26h12v12h-12zM668.8 1537.84h12v12h-12zM689 1626.66h12v12h-12zM709.2 1700.54h12v12h-12zM729.4 1771.95h12v12h-12zM749.6 1824.92h12v12h-12zM769.8 1865.33h12v12h-12zM790 1891.93h12v12h-12zM810.2 1914.77h12v12h-12zM830.4 1928.7h12v12h-12zM850.6 1940.25h12v12h-12zM870.8 1947.9h12v12h-12zM891 1954.18h12v12h-12zM911.2 1958.88h12v12h-12zM931.4 1961.71h12v12h-12zM951.6 1962.89h12v12h-12zM971.8 1964.01h12v12h-12zM992 1964.23h12v12h-12zM1012.2 1964.46h12v12h-12zM1032.4 1964.68h12v12h-12zM1052.6 1964.9h12v12h-12zM1072.8 1965.13h12v12h-12zM1093 1965.35h12v12h-12zM1113.2 1965.57h12v12h-12zM1133.4 1965.79h12v12h-12z" fill="#FF0080"/>
</g>
<clipPath id="c155"><rect x="1217.5" y="230" width="541.5" height="520.5"/></clipPath><g clip-path="url(#c155)">
<polyline points="1218.2,747.3 1263.4,746.5 1284.4,743.2 1298.9,741.6 1311.8,738.4 1323.1,727.1 1331.1,719 1339.2,707.7 1344,656.1 1352.1,615.8 1358.5,570.6 1366.6,543.2 1369.8,519 1373.9,490 1381.1,433.5 1389.2,401.3 1392.4,369 1395.6,344.8 1400.5,301.3 1406.9,278.7 1415,261 1424.7,259.4 1432.7,264.2 1440.8,293.2 1445.6,323.9 1453.7,340 1460.2,369 1466.6,409.4 1473.1,433.5 1482.7,444.8 1489.2,465.8 1496.1,480.3 1509,481.9 1515.5,491.6 1528.4,481.9 1534.8,469 1547.7,456.1 1557.4,433.5 1567.1,417.4 1578.4,401.3 1580,393.2 1586.5,373.9 1592.9,359.4 1604.2,356.1 1609,344.8 1617.1,328.7 1618.7,317.4 1625.2,340 1633.2,362.6 1641.3,394.8 1647.7,430.3 1652.6,465.8 1657.4,500 1660.6,546.5 1668.7,599.7 1676.8,635.2 1683.2,667.4 1689.7,696.5 1697.7,712.6 1705.8,725.5 1721.9,738.4 1738.1,743.2 1757.4,744.8" fill="none" stroke="#008000" stroke-width="3.2" stroke-linejoin="round"/>
<path d="M1216.5 744.79h5v5h-5zM1223.67 744.66h5v5h-5zM1230.84 744.53h5v5h-5zM1238.01 744.41h5v5h-5zM1245.18 744.28h5v5h-5zM1252.35 744.15h5v5h-5zM1259.52 744.02h5v5h-5zM1266.69 743.09h5v5h-5zM1273.86 741.96h5v5h-5zM1281.03 740.84h5v5h-5zM1288.2 740h5v5h-5zM1295.37 739.21h5v5h-5zM1302.54 737.58h5v5h-5zM1309.71 735.49h5v5h-5zM1316.88 728.32h5v5h-5zM1324.05 721.11h5v5h-5zM1331.22 712.84h5v5h-5zM1338.39 687.03h5v5h-5zM1345.56 633.4h5v5h-5zM1352.73 591.19h5v5h-5zM1359.9 554.91h5v5h-5zM1367.07 518.24h5v5h-5zM1374.24 465.21h5v5h-5zM1381.41 419.83h5v5h-5zM1388.58 379.82h5v5h-5zM1395.75 318.77h5v5h-5zM1402.92 281.43h5v5h-5zM1410.09 263.77h5v5h-5zM1417.26 257.71h5v5h-5zM1424.43 258.24h5v5h-5zM1431.6 266.71h5v5h-5zM1438.77 293.71h5v5h-5zM1445.94 327.04h5v5h-5zM1453.11 346.02h5v5h-5zM1460.28 382.79h5v5h-5zM1467.45 419.32h5v5h-5zM1474.62 435.73h5v5h-5zM1481.79 447.44h5v5h-5zM1488.96 468.05h5v5h-5zM1496.13 478.11h5v5h-5zM1503.3 479h5v5h-5zM1510.47 485.32h5v5h-5zM1517.64 485.61h5v5h-5zM1524.81 480.22h5v5h-5zM1531.98 467.14h5v5h-5zM1539.15 459.65h5v5h-5zM1546.32 450.99h5v5h-5zM1553.49 434.29h5v5h-5zM1560.66 421.44h5v5h-5zM1567.83 410.3h5v5h-5zM1575 400.08h5v5h-5zM1582.17 376.83h5v5h-5zM1589.34 359.3h5v5h-5zM1596.51 355.12h5v5h-5zM1603.68 348.94h5v5h-5zM1610.85 333.65h5v5h-5zM1618.02 321.23h5v5h-5zM1625.19 344.53h5v5h-5zM1632.36 366.7h5v5h-5zM1639.53 396.35h5v5h-5zM1646.7 438.67h5v5h-5zM1653.87 490.16h5v5h-5zM1661.04 563.31h5v5h-5zM1668.21 606.01h5v5h-5zM1675.38 638.13h5v5h-5zM1682.55 673.18h5v5h-5zM1689.72 699.07h5v5h-5zM1696.89 712.79h5v5h-5zM1704.06 723.61h5v5h-5zM1711.23 729.35h5v5h-5zM1718.4 735.1h5v5h-5zM1725.57 737.73h5v5h-5zM1732.74 739.85h5v5h-5zM1739.91 741.06h5v5h-5zM1747.08 741.65h5v5h-5zM1754.25 742.25h5v5h-5z" fill="#008000"/>
<polyline points="1218.2,746.5 1239.2,743.2 1255.3,738.4 1269.8,736.8 1279.5,743.2 1282.7,738.4 1295.6,733.5 1305.3,725.5 1311.8,707.7 1318.2,698.1 1323.1,678.7 1327.9,635.2 1331.1,586.8 1337.6,522.3 1340,490 1342.4,449.7 1344,409.4 1352.1,336.8 1356.9,304.5 1363.4,293.2 1369.8,280.3 1376.3,272.3 1381.1,256.1 1386,265.8 1394,282 1400.5,272.3 1410.2,254.5 1415,283.5 1419.8,323.9 1427.9,336.8 1436,369 1442.4,417.4 1453.7,441.6 1463.4,473.9 1466.6,490 1473.1,519 1482.7,533.5 1489,546.5 1496.1,562.6 1499.4,581.9 1512.3,588.4 1521.9,594.8 1530,606.1 1539.7,590 1551,591.6 1562.3,583.5 1567.1,562.6 1576.8,554.5 1589.7,546.5 1596.1,522.3 1604.2,519 1610.6,528.7 1618.7,522.3 1626.8,525.5 1631.6,549.7 1639.7,573.9 1646.1,602.9 1654.2,627.1 1662.3,659.4 1670.3,691.6 1680,715.8 1689.7,728.7 1705.8,738.4 1721.9,743.2 1757.4,746.5" fill="none" stroke="#FF8000" stroke-width="3.2" stroke-linejoin="round"/>
<path d="M1216.5 743.87h5v5h-5zM1223.67 742.75h5v5h-5zM1230.84 741.62h5v5h-5zM1238.01 740.31h5v5h-5zM1245.18 738.17h5v5h-5zM1252.35 736.03h5v5h-5zM1259.52 735.16h5v5h-5zM1266.69 734.37h5v5h-5zM1273.86 738.63h5v5h-5zM1281.03 735.58h5v5h-5zM1288.2 732.86h5v5h-5zM1295.37 729.13h5v5h-5zM1302.54 723.21h5v5h-5zM1309.71 704.58h5v5h-5zM1316.88 690.93h5v5h-5zM1324.05 644.93h5v5h-5zM1331.22 558.3h5v5h-5zM1338.39 472.56h5v5h-5zM1345.56 370.51h5v5h-5zM1352.73 313.24h5v5h-5zM1359.9 292.44h5v5h-5zM1367.07 278.26h5v5h-5zM1374.24 268.31h5v5h-5zM1381.41 259.16h5v5h-5zM1388.58 273.59h5v5h-5zM1395.75 273.16h5v5h-5zM1402.92 260.77h5v5h-5zM1410.09 266.44h5v5h-5zM1417.26 321.06h5v5h-5zM1424.43 332.76h5v5h-5zM1431.6 358.95h5v5h-5zM1438.77 406.35h5v5h-5zM1445.94 427.84h5v5h-5zM1453.11 445.46h5v5h-5zM1460.28 469.34h5v5h-5zM1467.45 502.45h5v5h-5zM1474.62 522.57h5v5h-5zM1481.79 534.28h5v5h-5zM1488.96 549.58h5v5h-5zM1496.13 574.9h5v5h-5zM1503.3 582.62h5v5h-5zM1510.47 586.35h5v5h-5zM1517.64 591.13h5v5h-5zM1524.81 599.85h5v5h-5zM1531.98 596.16h5v5h-5zM1539.15 587.78h5v5h-5zM1546.32 588.79h5v5h-5zM1553.49 585.52h5v5h-5zM1560.66 577.26h5v5h-5zM1567.83 557.4h5v5h-5zM1575 551.57h5v5h-5zM1582.17 547.12h5v5h-5zM1589.34 535.91h5v5h-5zM1596.51 518.61h5v5h-5zM1603.68 519.5h5v5h-5zM1610.85 524.03h5v5h-5zM1618.02 520.52h5v5h-5zM1625.19 527.49h5v5h-5zM1632.36 556.94h5v5h-5zM1639.53 581.96h5v5h-5zM1646.7 609.66h5v5h-5zM1653.87 633.25h5v5h-5zM1661.04 661.89h5v5h-5zM1668.21 690.12h5v5h-5zM1675.38 708.01h5v5h-5zM1682.55 720.02h5v5h-5zM1689.72 727.72h5v5h-5zM1696.89 732.04h5v5h-5zM1704.06 736.13h5v5h-5zM1711.23 738.26h5v5h-5zM1718.4 740.4h5v5h-5zM1725.57 741.27h5v5h-5zM1732.74 741.94h5v5h-5zM1739.91 742.61h5v5h-5zM1747.08 743.27h5v5h-5zM1754.25 743.94h5v5h-5z" fill="#FF8000"/>
<polyline points="1218.2,744.8 1231.1,741.6 1244,738.4 1252.1,730.3 1260.2,719 1268.2,704.5 1273.1,662.6 1279.5,596.5 1287.6,522.3 1290.8,490 1294,462.6 1300.5,417.4 1308.5,380.3 1312.6,352.9 1315.8,323.9 1322.3,290 1332.7,293.2 1337.6,278.7 1344,265.8 1349.7,256.1 1355.3,272.3 1360.2,299.7 1369.8,304.5 1376.3,307.7 1381.1,336.8 1389.2,372.3 1394,396.5 1402.1,401.3 1410.2,433.5 1416.6,473.9 1424.7,483 1431.1,502.9 1437.6,536.8 1445.6,564.2 1452.1,573.9 1460.2,593.2 1466.6,609.4 1473.1,622.3 1481.1,631.9 1488.1,638.4 1496.1,644.8 1502.6,652.9 1515.5,656.1 1531.6,657.7 1541.3,652.9 1547.7,641.6 1560.6,635.2 1570.3,627.1 1580,611 1589.7,602.9 1599.4,599.7 1609,593.2 1615.5,602.9 1623.5,612.6 1633.2,622.3 1639.7,646.5 1647.7,667.4 1652.6,688.4 1660.6,699.7 1668.7,712.6 1675.2,725.5 1686.5,733.5 1697.7,741.6 1713.9,746.5 1757.4,748.1" fill="none" stroke="#8000FF" stroke-width="3.2" stroke-linejoin="round"/>
<path d="M1216.5 742.1h5v5h-5zM1223.67 740.32h5v5h-5zM1230.84 738.54h5v5h-5zM1238.01 736.77h5v5h-5zM1245.18 732.22h5v5h-5zM1252.35 723.96h5v5h-5zM1259.52 713.2h5v5h-5zM1266.69 693.53h5v5h-5zM1273.86 626.43h5v5h-5zM1281.03 557.08h5v5h-5zM1288.2 488.51h5v5h-5zM1295.37 433.19h5v5h-5zM1302.54 393.85h5v5h-5zM1309.71 353.01h5v5h-5zM1316.88 302.73h5v5h-5zM1324.05 288.81h5v5h-5zM1331.22 287.68h5v5h-5zM1338.39 269.57h5v5h-5zM1345.56 256.39h5v5h-5zM1352.73 269.6h5v5h-5zM1359.9 298.3h5v5h-5zM1367.07 301.89h5v5h-5zM1374.24 307.87h5v5h-5zM1381.41 346.62h5v5h-5zM1388.58 379.28h5v5h-5zM1395.75 396.52h5v5h-5zM1402.92 412h5v5h-5zM1410.09 446.09h5v5h-5zM1417.26 474.95h5v5h-5zM1424.43 487.43h5v5h-5zM1431.6 516.05h5v5h-5zM1438.77 546.87h5v5h-5zM1445.94 565.94h5v5h-5zM1453.11 579.76h5v5h-5zM1460.28 597.23h5v5h-5zM1467.45 613.55h5v5h-5zM1474.62 624.62h5v5h-5zM1481.79 632.36h5v5h-5zM1488.96 638.59h5v5h-5zM1496.13 645.45h5v5h-5zM1503.3 651.19h5v5h-5zM1510.47 652.97h5v5h-5zM1517.64 654.06h5v5h-5zM1524.81 654.77h5v5h-5zM1531.98 653.77h5v5h-5zM1539.15 649.78h5v5h-5zM1546.32 638.54h5v5h-5zM1553.49 634.99h5v5h-5zM1560.66 630.56h5v5h-5zM1567.83 624.55h5v5h-5zM1575 612.65h5v5h-5zM1582.17 604.6h5v5h-5zM1589.34 599.69h5v5h-5zM1596.51 597.33h5v5h-5zM1603.68 592.61h5v5h-5zM1610.85 597.19h5v5h-5zM1618.02 606.49h5v5h-5zM1625.19 614.29h5v5h-5zM1632.36 625.98h5v5h-5zM1639.53 650.09h5v5h-5zM1646.7 671.33h5v5h-5zM1653.87 691.23h5v5h-5zM1661.04 701.88h5v5h-5zM1668.21 714.09h5v5h-5zM1675.38 724.9h5v5h-5zM1682.55 729.97h5v5h-5zM1689.72 735.14h5v5h-5zM1696.89 739.61h5v5h-5zM1704.06 741.78h5v5h-5zM1711.23 743.95h5v5h-5zM1718.4 744.26h5v5h-5zM1725.57 744.52h5v5h-5zM1732.74 744.78h5v5h-5zM1739.91 745.05h5v5h-5zM1747.08 745.31h5v5h-5zM1754.25 745.58h5v5h-5z" fill="#8000FF"/>
<polyline points="1218.2,741.6 1224.7,735.2 1231.1,725.5 1239.2,722.3 1244,714.2 1255.3,706.1 1266.6,693.2 1279.5,681.9 1286,667.4 1292.4,649.7 1298.9,623.9 1303.7,604.5 1308.5,585.2 1318.2,572.3 1321.5,554.5 1326.3,531.9 1331.1,509.4 1336,490 1337.6,475.5 1345.6,462.6 1350.5,417.4 1358.5,373.9 1365,361 1366.6,346.5 1374.7,323.9 1381.1,301.3 1387.6,275.5 1392.4,265.8 1395.6,254.5 1402.1,272.3 1408.5,268 1416.6,272.3 1421.5,296.5 1429.5,340 1436,349.7 1444,377.1 1452.1,406.1 1458.5,444.8 1468.2,452.9 1476.3,469 1482,488 1490,505 1500,497 1510,510 1517.1,494 1528.4,457.7 1541.3,452.9 1547.7,446.5 1552.6,423.9 1557.4,394.8 1567.1,380.3 1575.2,373.9 1576.8,344.8 1581.6,328.7 1588.1,301.3 1592.9,296.5 1599.4,296.5 1604.2,322.3 1609,288.4 1617.1,291.6 1621.9,323.9 1628.4,352.9 1631.6,377.1 1638.1,425.5 1642.9,465.8 1646.1,495 1651,522.3 1655.8,570.6 1662.3,602.9 1667.1,651.3 1675.2,683.5 1683.2,702.9 1689.7,715.8 1705.8,728.7 1721.9,738.4 1738.1,743.2 1757.4,744.8" fill="none" stroke="#FF0080" stroke-width="3.2" stroke-linejoin="round"/>
<path d="M1216.5 738.31h5v5h-5zM1223.67 730.47h5v5h-5zM1230.84 722.12h5v5h-5zM1238.01 717.59h5v5h-5zM1245.18 709.06h5v5h-5zM1252.35 703.92h5v5h-5zM1259.52 695.93h5v5h-5zM1266.69 688.43h5v5h-5zM1273.86 682.15h5v5h-5zM1281.03 670.41h5v5h-5zM1288.2 651.9h5v5h-5zM1295.37 625.49h5v5h-5zM1302.54 596.61h5v5h-5zM1309.71 577.77h5v5h-5zM1316.88 563.44h5v5h-5zM1324.05 528.23h5v5h-5zM1331.22 496.53h5v5h-5zM1338.39 467.69h5v5h-5zM1345.56 437.41h5v5h-5zM1352.73 389.18h5v5h-5zM1359.9 363.66h5v5h-5zM1367.07 335.71h5v5h-5zM1374.24 314.2h5v5h-5zM1381.41 287.65h5v5h-5zM1388.58 265.97h5v5h-5zM1395.75 259.26h5v5h-5zM1402.92 267.57h5v5h-5zM1410.09 267.67h5v5h-5zM1417.26 285.41h5v5h-5zM1424.43 323.53h5v5h-5zM1431.6 344.36h5v5h-5zM1438.77 365.25h5v5h-5zM1445.94 390.5h5v5h-5zM1453.11 424.82h5v5h-5zM1460.28 445.87h5v5h-5zM1467.45 453.88h5v5h-5zM1474.62 469.23h5v5h-5zM1481.79 490.37h5v5h-5zM1488.96 501.33h5v5h-5zM1496.13 495.6h5v5h-5zM1503.3 502.04h5v5h-5zM1510.47 500.81h5v5h-5zM1517.64 481.73h5v5h-5zM1524.81 458.7h5v5h-5zM1531.98 452.94h5v5h-5zM1539.15 450.05h5v5h-5zM1546.32 438.83h5v5h-5zM1553.49 400.85h5v5h-5zM1560.66 383.69h5v5h-5zM1567.83 375.25h5v5h-5zM1575 339.95h5v5h-5zM1582.17 313.26h5v5h-5zM1589.34 295.06h5v5h-5zM1596.51 294h5v5h-5zM1603.68 305.82h5v5h-5zM1610.85 287.62h5v5h-5zM1618.02 312.11h5v5h-5zM1625.19 347.23h5v5h-5zM1632.36 398.87h5v5h-5zM1639.53 456h5v5h-5zM1646.7 509.77h5v5h-5zM1653.87 570.93h5v5h-5zM1661.04 612.9h5v5h-5zM1668.21 663.15h5v5h-5zM1675.38 687.5h5v5h-5zM1682.55 704.07h5v5h-5zM1689.72 715.32h5v5h-5zM1696.89 721.06h5v5h-5zM1704.06 726.66h5v5h-5zM1711.23 730.98h5v5h-5zM1718.4 735.3h5v5h-5zM1725.57 737.73h5v5h-5zM1732.74 739.85h5v5h-5zM1739.91 741.06h5v5h-5zM1747.08 741.65h5v5h-5zM1754.25 742.25h5v5h-5z" fill="#FF0080"/>
</g>
<clipPath id="c165"><rect x="1218" y="1020" width="541" height="519.5"/></clipPath><g clip-path="url(#c165)">
<polyline points="1218.2,1536.5 1263.4,1534 1286,1529.2 1302.1,1525.2 1318.2,1517.1 1334.4,1501 1347.3,1483.2 1361.8,1457.4 1374.7,1417.1 1389.2,1360.6 1400.5,1280 1407.8,1224.7 1419.8,1160.3 1431.8,1092.9 1440.8,1082.4 1445.3,1065.9 1451.3,1061.5 1455.8,1045 1461.7,1048 1472.2,1064.4 1479.7,1100.4 1491.7,1172.3 1505.2,1242.7 1512.3,1280 1515.5,1301 1528.4,1365.5 1539.7,1409 1552.6,1451 1563.9,1475.2 1576.8,1488.1 1589.7,1502.6 1602.6,1509 1617.1,1517.1 1641.3,1523.5 1657.4,1528.4 1757.4,1534.8" fill="none" stroke="#008000" stroke-width="3.2" stroke-linejoin="round"/>
<path d="M1219.5 1533.79h5v5h-5zM1231.45 1533.13h5v5h-5zM1243.4 1532.47h5v5h-5zM1255.35 1531.81h5v5h-5zM1267.3 1530.14h5v5h-5zM1279.25 1527.6h5v5h-5zM1291.2 1524.79h5v5h-5zM1303.15 1520.91h5v5h-5zM1315.1 1514.9h5v5h-5zM1327.05 1503.32h5v5h-5zM1339 1488.7h5v5h-5zM1350.95 1469.76h5v5h-5zM1362.9 1443.65h5v5h-5zM1374.85 1404.27h5v5h-5zM1386.8 1357.39h5v5h-5zM1398.75 1271.82h5v5h-5zM1410.7 1193.22h5v5h-5zM1422.65 1127.75h5v5h-5zM1434.6 1084.22h5v5h-5zM1446.55 1060.65h5v5h-5zM1458.5 1045.14h5v5h-5zM1470.45 1065.5h5v5h-5zM1482.4 1129.06h5v5h-5zM1494.35 1196.66h5v5h-5zM1506.3 1259.11h5v5h-5zM1518.25 1324.75h5v5h-5zM1530.2 1379.55h5v5h-5zM1542.15 1422.62h5v5h-5zM1554.1 1457.07h5v5h-5zM1566.05 1477.35h5v5h-5zM1578 1489.76h5v5h-5zM1589.95 1501.46h5v5h-5zM1601.9 1507.51h5v5h-5zM1613.85 1514.18h5v5h-5zM1625.8 1517.56h5v5h-5zM1637.75 1520.72h5v5h-5zM1649.7 1524.32h5v5h-5zM1661.65 1526.33h5v5h-5zM1673.6 1527.1h5v5h-5zM1685.55 1527.86h5v5h-5zM1697.5 1528.63h5v5h-5zM1709.45 1529.39h5v5h-5zM1721.4 1530.16h5v5h-5zM1733.35 1530.92h5v5h-5zM1745.3 1531.69h5v5h-5z" fill="#008000"/>
<polyline points="1218.2,1535.6 1276.3,1530 1295.6,1525.2 1315,1513.9 1335,1492 1350.5,1468.7 1369.8,1404.2 1382.7,1344.5 1397.3,1280 1403.3,1224.7 1421.3,1182.8 1431.8,1131.8 1446.8,1086.9 1458.8,1055.5 1472.2,1058.5 1487.2,1070.4 1494.7,1086.9 1500.7,1122.9 1506.7,1149.8 1514.2,1209.7 1527.6,1265.1 1534.8,1285 1539.7,1312.3 1552.6,1360.6 1562.3,1405.8 1575.2,1442.9 1588.1,1470.3 1602.6,1488.1 1625.2,1501 1651,1517.1 1673.5,1525.2 1721.9,1531.6 1757.4,1534.8" fill="none" stroke="#FF8000" stroke-width="3.2" stroke-linejoin="round"/>
<path d="M1219.5 1532.73h5v5h-5zM1231.45 1531.58h5v5h-5zM1243.4 1530.43h5v5h-5zM1255.35 1529.28h5v5h-5zM1267.3 1528.13h5v5h-5zM1279.25 1526.14h5v5h-5zM1291.2 1523.17h5v5h-5zM1303.15 1516.85h5v5h-5zM1315.1 1508.55h5v5h-5zM1327.05 1495.47h5v5h-5zM1339 1479.73h5v5h-5zM1350.95 1456.34h5v5h-5zM1362.9 1416.4h5v5h-5zM1374.85 1366.76h5v5h-5zM1386.8 1312.84h5v5h-5zM1398.75 1241.09h5v5h-5zM1410.7 1199.15h5v5h-5zM1422.65 1161.6h5v5h-5zM1434.6 1113.44h5v5h-5zM1446.55 1078.51h5v5h-5zM1458.5 1053.49h5v5h-5zM1470.45 1056.6h5v5h-5zM1482.4 1066.08h5v5h-5zM1494.35 1097.3h5v5h-5zM1506.3 1164.07h5v5h-5zM1518.25 1234.28h5v5h-5zM1530.2 1276.7h5v5h-5zM1542.15 1328.33h5v5h-5zM1554.1 1376.74h5v5h-5zM1566.05 1421.27h5v5h-5zM1578 1451.66h5v5h-5zM1589.95 1473.14h5v5h-5zM1601.9 1486.63h5v5h-5zM1613.85 1493.45h5v5h-5zM1625.8 1500.43h5v5h-5zM1637.75 1507.89h5v5h-5zM1649.7 1515.03h5v5h-5zM1661.65 1519.33h5v5h-5zM1673.6 1523.04h5v5h-5zM1685.55 1524.62h5v5h-5zM1697.5 1526.2h5v5h-5zM1709.45 1527.78h5v5h-5zM1721.4 1529.28h5v5h-5zM1733.35 1530.36h5v5h-5zM1745.3 1531.43h5v5h-5z" fill="#FF8000"/>
<polyline points="1218.2,1531.6 1229.5,1528.4 1253.7,1526.8 1286,1523.5 1298.9,1515.5 1311.8,1507.4 1324.7,1497.7 1336,1484.8 1348.9,1462.3 1360.2,1425.2 1373.1,1367.1 1384.4,1312.3 1392.9,1280 1407.8,1205.2 1421.3,1173.8 1434.8,1143.8 1445.3,1127.3 1452.8,1104.9 1457.3,1071.9 1464.7,1055.5 1470.7,1049.5 1478.2,1064.4 1484.2,1079.4 1493.2,1089.9 1499.2,1083.9 1506.7,1112.4 1517.2,1148.3 1530.6,1236.7 1538.1,1280 1542.9,1292.9 1552.6,1334.8 1562.3,1373.5 1567.1,1392.9 1576.8,1434.8 1588.1,1457.4 1601,1476.8 1612.3,1491.3 1625.2,1505.8 1641.3,1513.9 1657.4,1525.2 1689.7,1530 1721.9,1531.6 1757.4,1531.6" fill="none" stroke="#8000FF" stroke-width="3.2" stroke-linejoin="round"/>
<path d="M1219.5 1528.02h5v5h-5zM1231.45 1525.61h5v5h-5zM1243.4 1524.82h5v5h-5zM1255.35 1523.88h5v5h-5zM1267.3 1522.66h5v5h-5zM1279.25 1521.43h5v5h-5zM1291.2 1516.22h5v5h-5zM1303.15 1508.76h5v5h-5zM1315.1 1500.54h5v5h-5zM1327.05 1489.66h5v5h-5zM1339 1472.71h5v5h-5zM1350.95 1444.86h5v5h-5zM1362.9 1399.28h5v5h-5zM1374.85 1343.99h5v5h-5zM1386.8 1291.18h5v5h-5zM1398.75 1235.58h5v5h-5zM1410.7 1190.14h5v5h-5zM1422.65 1162.74h5v5h-5zM1434.6 1137.69h5v5h-5zM1446.55 1113.6h5v5h-5zM1458.5 1061.2h5v5h-5zM1470.45 1051.47h5v5h-5zM1482.4 1077.72h5v5h-5zM1494.35 1083.75h5v5h-5zM1506.3 1117.08h5v5h-5zM1518.25 1169.22h5v5h-5zM1530.2 1246.32h5v5h-5zM1542.15 1297.96h5v5h-5zM1554.1 1348.26h5v5h-5zM1566.05 1396.66h5v5h-5zM1578 1439.7h5v5h-5zM1589.95 1461.44h5v5h-5zM1601.9 1478.66h5v5h-5zM1613.85 1493.35h5v5h-5zM1625.8 1504.86h5v5h-5zM1637.75 1510.87h5v5h-5zM1649.7 1519.05h5v5h-5zM1661.65 1523.7h5v5h-5zM1673.6 1525.48h5v5h-5zM1685.55 1527.25h5v5h-5zM1697.5 1528.01h5v5h-5zM1709.45 1528.61h5v5h-5zM1721.4 1529.1h5v5h-5zM1733.35 1529.1h5v5h-5zM1745.3 1529.1h5v5h-5z" fill="#8000FF"/>
<polyline points="1218.2,1534.8 1247.3,1530 1269.8,1523.5 1286,1515.5 1300.5,1505.8 1311.8,1496.1 1326.3,1478.4 1339.2,1451 1348.9,1412.3 1360.2,1360.6 1369.8,1312.3 1374.7,1280 1383.9,1218.7 1395.9,1154.3 1407.8,1094.4 1419.8,1051 1425.8,1051 1431.8,1060 1437,1051 1443.8,1074.9 1449.8,1077.9 1455.8,1101.9 1467.7,1155.8 1481.2,1232.2 1489.7,1280 1492.9,1301 1504.2,1360.6 1513.9,1409 1526.8,1444.5 1539.7,1468.7 1551,1488.1 1563.9,1502.6 1576.8,1510.6 1592.9,1520.3 1609,1526.8 1633.2,1531.6 1657.4,1534.8 1757.4,1536.5" fill="none" stroke="#FF0080" stroke-width="3.2" stroke-linejoin="round"/>
<path d="M1219.5 1531.67h5v5h-5zM1231.45 1529.7h5v5h-5zM1243.4 1527.73h5v5h-5zM1255.35 1524.45h5v5h-5zM1267.3 1521h5v5h-5zM1279.25 1515.1h5v5h-5zM1291.2 1507.85h5v5h-5zM1303.15 1498.88h5v5h-5zM1315.1 1486.52h5v5h-5zM1327.05 1469h5v5h-5zM1339 1439.32h5v5h-5zM1350.95 1388.98h5v5h-5zM1362.9 1331.94h5v5h-5zM1374.85 1259.84h5v5h-5zM1386.8 1187.22h5v5h-5zM1398.75 1124.87h5v5h-5zM1410.7 1072.37h5v5h-5zM1422.65 1048.5h5v5h-5zM1434.6 1048.85h5v5h-5zM1446.55 1075.03h5v5h-5zM1458.5 1122.95h5v5h-5zM1470.45 1183.01h5v5h-5zM1482.4 1250.51h5v5h-5zM1494.35 1319.33h5v5h-5zM1506.3 1381.05h5v5h-5zM1518.25 1425.35h5v5h-5zM1530.2 1453.07h5v5h-5zM1542.15 1474.7h5v5h-5zM1554.1 1491.89h5v5h-5zM1566.05 1502.98h5v5h-5zM1578 1510.33h5v5h-5zM1589.95 1517.53h5v5h-5zM1601.9 1522.44h5v5h-5zM1613.85 1525.76h5v5h-5zM1625.8 1528.13h5v5h-5zM1637.75 1530.03h5v5h-5zM1649.7 1531.61h5v5h-5zM1661.65 1532.41h5v5h-5zM1673.6 1532.62h5v5h-5zM1685.55 1532.82h5v5h-5zM1697.5 1533.02h5v5h-5zM1709.45 1533.23h5v5h-5zM1721.4 1533.43h5v5h-5zM1733.35 1533.63h5v5h-5zM1745.3 1533.84h5v5h-5z" fill="#FF0080"/>
</g>
</svg>
</body></html>
